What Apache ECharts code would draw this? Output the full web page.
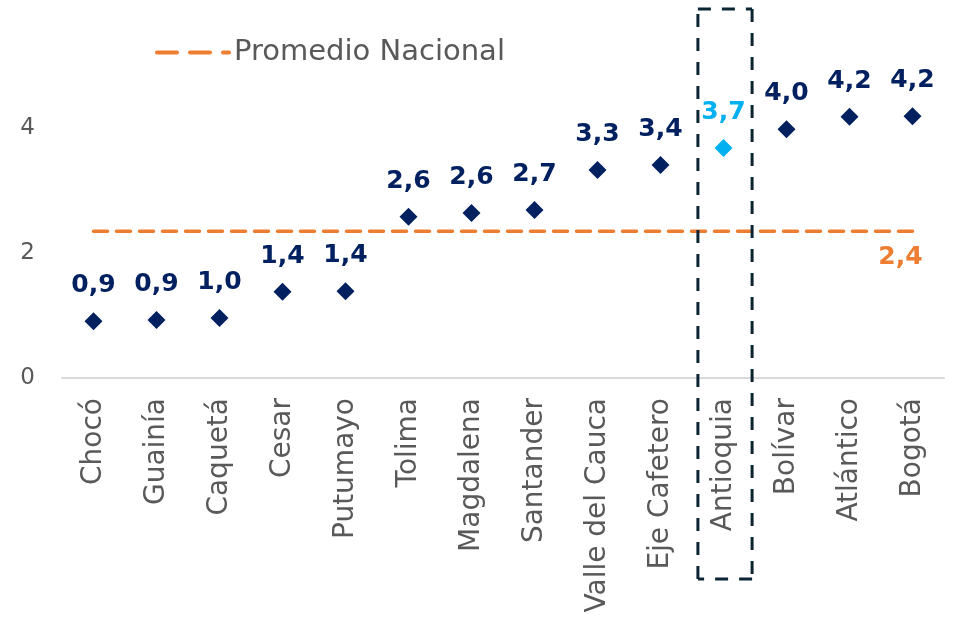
<!DOCTYPE html>
<html><head><meta charset="utf-8">
<script src="https://cdn.jsdelivr.net/npm/echarts@6/dist/echarts.min.js"></script>
<style>html,body{margin:0;padding:0;background:#fff}#c{width:953px;height:620px}</style>
</head><body><div id="c"></div>
<script>
const categories = ['Chocó','Guainía','Caquetá','Cesar','Putumayo','Tolima','Magdalena','Santander','Valle del Cauca','Eje Cafetero','Antioquia','Bolívar','Atlántico','Bogotá'];
const values = [0.91, 0.93, 0.96, 1.38, 1.39, 2.58, 2.64, 2.69, 3.33, 3.41, 3.68, 3.98, 4.18, 4.19];
const promedio = [2.35, 2.35, 2.35, 2.35, 2.35, 2.35, 2.35, 2.35, 2.35, 2.35, 2.35, 2.35, 2.35, 2.35];
const highlight = 'Antioquia';
const yTicks = [0, 2, 4];

const FONT = 'DejaVu Sans';
const chart = echarts.init(document.getElementById('c'));
const fmt = v => v.toFixed(1).replace('.', ',');

chart.setOption({
  animation: false,
  textStyle: { fontFamily: FONT },
  grid: { left: 62, right: 9, top: 3, bottom: 242, containLabel: false },
  legend: {
    left: 150, top: 33, data: ['Promedio Nacional'],
    itemWidth: 72, itemHeight: 14, itemGap: 6,
    itemStyle: { opacity: 0 },
    lineStyle: { width: 4, type: [20, 13], cap: 'round', color: '#ed7d31' },
    textStyle: { color: '#595959', fontSize: 29, fontFamily: FONT }
  },
  xAxis: {
    type: 'category', data: categories,
    axisLine: { lineStyle: { color: '#d9d9d9', width: 2 } },
    axisTick: { show: false },
    axisLabel: { rotate: 90, interval: 0, color: '#595959', fontSize: 28, margin: 20, fontFamily: FONT }
  },
  yAxis: {
    type: 'value', min: 0, max: 6, interval: 2,
    splitLine: { show: false }, axisLine: { show: false }, axisTick: { show: false },
    axisLabel: { color: '#595959', fontSize: 23, margin: 27, fontFamily: FONT,
      formatter: v => yTicks.includes(v) ? String(v) : '' }
  },
  series: [
    {
      name: 'Promedio Nacional', type: 'line', data: promedio,
      symbol: 'none', z: 1,
      lineStyle: { color: '#ed7d31', width: 3.5, type: [14, 9], cap: 'round' },
      itemStyle: { color: '#ed7d31' },
      label: { show: false }
    },
    {
      name: 'Valores', type: 'scatter', z: 3,
      symbol: 'diamond', symbolSize: [18, 18],
      itemStyle: { opacity: 1 },
      data: values.map((v, i) => ({
        value: v,
        itemStyle: { opacity: 1, color: categories[i] === highlight ? '#00b0f0' : '#002060' },
        label: { color: categories[i] === highlight ? '#00b0f0' : '#002060' }
      })),
      label: { show: true, position: 'top', distance: 14, fontSize: 25, fontWeight: 'bold',
        fontFamily: FONT, formatter: p => fmt(p.value) }
    },
    {
      name: 'PromLabel', type: 'scatter', symbolSize: 0, silent: true,
      itemStyle: { opacity: 1, color: '#ed7d31' },
      data: promedio.map((v, i) => i === promedio.length - 1 ? v : '-'),
      label: { show: true, position: 'bottom', distance: 14, offset: [-12, 0], color: '#ed7d31',
        fontSize: 25, fontWeight: 'bold', fontFamily: FONT, formatter: p => fmt(p.value) }
    }
  ]
});

function drawBox() {
  const idx = categories.indexOf(highlight);
  const cx = chart.convertToPixel({ xAxisIndex: 0 }, idx);
  const cn = chart.convertToPixel({ xAxisIndex: 0 }, idx + 1);
  const half = (cn - cx) / 2 * 0.86;
  const x1 = cx - half + 1.5, x2 = cx + half + 1.5, y1 = 9, y2 = 579;
  const st = { stroke: '#0c2535', lineWidth: 3, lineDash: [13, 11], lineCap: 'butt', fill: null };
  const seg = (a, b, c, d) => ({ type: 'line', z: 10, silent: true,
    shape: { x1: a, y1: b, x2: c, y2: d }, style: Object.assign({}, st) });
  chart.setOption({
    graphic: [
      seg(x1, y1, x2, y1), seg(x2, y1, x2, y2), seg(x2, y2, x1, y2), seg(x1, y2, x1, y1)
    ]
  });
}
drawBox();
</script></body></html>
